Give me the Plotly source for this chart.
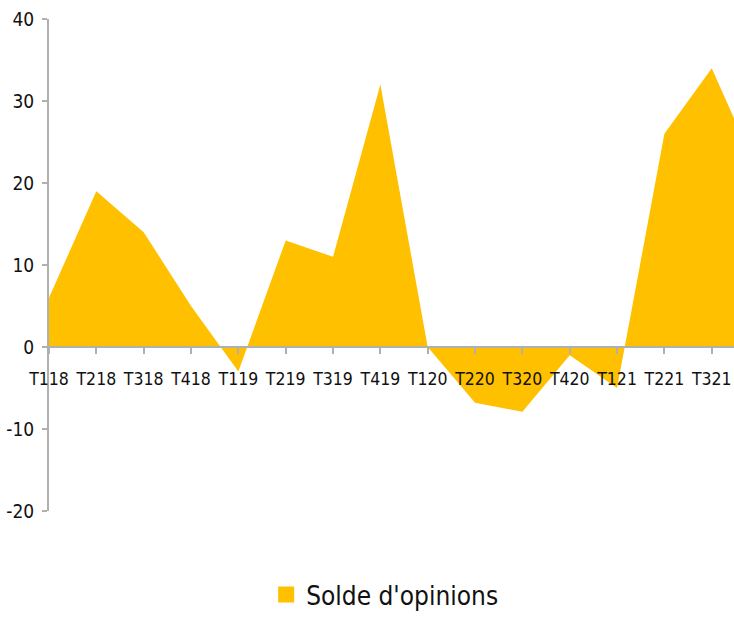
import plotly.graph_objects as go

categories = ["T118", "T218", "T318", "T418", "T119", "T219", "T319", "T419",
              "T120", "T220", "T320", "T420", "T121", "T221", "T321", "T421"]
solde = [6, 19, 14, 5, -3, 13, 11, 32, 0, -6.8, -7.9, -1, -5, 26, 34, 21]
y_ticks = [40, 30, 20, 10, 0, -10, -20]
y_tick_text = ["40", "30", "20", "10", "0", "-10", "-20"]
series_name = "Solde d'opinions"

FONT = "DejaVu Sans Condensed, Liberation Sans Narrow, sans-serif"
GOLD = "#FFC000"
AXIS = "#b0b0b0"

fig = go.Figure()
fig.add_trace(go.Scatter(
    x=categories, y=solde, mode="lines", fill="tozeroy",
    fillcolor=GOLD, line=dict(width=0, color=GOLD), showlegend=False,
    hoverinfo="x+y"))
fig.add_trace(go.Scatter(
    x=[None], y=[None], mode="markers", name=series_name,
    marker=dict(symbol="square", size=16, color=GOLD)))

fig.update_layout(
    width=734, height=618,
    margin=dict(l=49, r=0, t=19, b=106),
    paper_bgcolor="white", plot_bgcolor="white",
    font=dict(family=FONT, color="#111111"),
    showlegend=True,
    legend=dict(orientation="h", x=0.49, xanchor="center", y=-0.17, yanchor="middle",
                font=dict(size=26, family=FONT, color="#111111"),
                itemwidth=30),
    xaxis=dict(type="category", range=[0, 14.47], anchor="free", position=1/3,
               automargin=False,
               showgrid=False, zeroline=False,
               showline=True, linecolor=AXIS, linewidth=2,
               ticks="outside", ticklen=6, tickcolor=AXIS, tickwidth=1.5,
               tickfont=dict(size=17.5, family=FONT, color="#111111"),
               ticklabelstandoff=10, tickangle=0, ticklabeloverflow="allow"),
    yaxis=dict(range=[-20, 40], tickvals=y_ticks, ticktext=y_tick_text,
               automargin=False,
               showgrid=False, zeroline=False,
               showline=True, linecolor=AXIS, linewidth=2,
               ticks="outside", ticklen=5, tickcolor=AXIS, tickwidth=1.5,
               ticklabelstandoff=4, ticklabeloverflow="allow",
               tickfont=dict(size=19, family=FONT, color="#111111")),
)

fig.write_html(
    "out.html",
    config={"displayModeBar": False},
    post_script="document.body.style.margin='0';document.body.style.overflow='hidden';",
)
